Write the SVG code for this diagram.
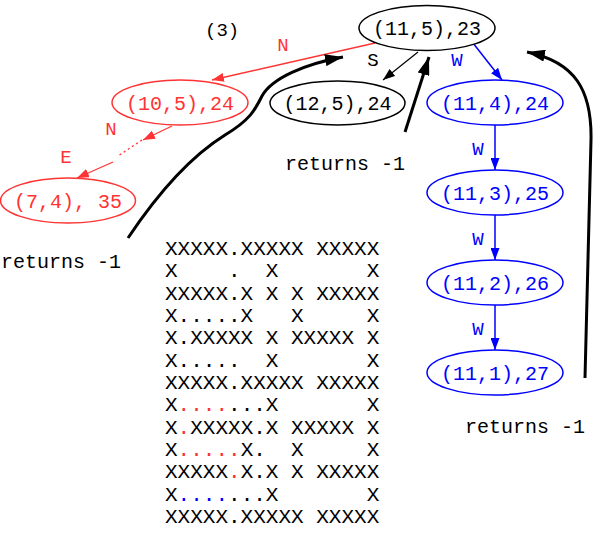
<svg xmlns="http://www.w3.org/2000/svg" width="601" height="533" viewBox="0 0 601 533">
<style>
text{font-family:"Liberation Mono","Courier New",monospace;}
.nl{font-size:20px;text-anchor:middle;}
.el{font-size:19px;text-anchor:middle;}
.ret{font-size:20px;fill:#000;}
.maze{font-size:21px;fill:#000;white-space:pre;}
.red{fill:#ff3333;}
.blue{fill:#0000ff;}
.blk{fill:#000;}
.nb{fill:#fff;stroke:#000;stroke-width:1.5;}
.nr{fill:#fff;stroke:#ff3333;stroke-width:1.5;}
.nu{fill:#fff;stroke:#0000ff;stroke-width:1.5;}
.er{stroke:#ff3333;stroke-width:1.3;fill:none;}
.eu{stroke:#0000ff;stroke-width:1.5;fill:none;}
.ek{stroke:#000;stroke-width:1.3;fill:none;}
.thick{stroke:#000;stroke-width:3;fill:none;}
</style>
<defs>
<marker id="ar" markerUnits="userSpaceOnUse" markerWidth="13" markerHeight="9" refX="12" refY="4.5" orient="auto"><path d="M0,0 L12,4.5 L0,9 z" fill="#ff3333"/></marker>
<marker id="au" markerUnits="userSpaceOnUse" markerWidth="13" markerHeight="9" refX="12" refY="4.5" orient="auto"><path d="M0,0 L12,4.5 L0,9 z" fill="#0000ff"/></marker>
<marker id="ak" markerUnits="userSpaceOnUse" markerWidth="13" markerHeight="9" refX="12" refY="4.5" orient="auto"><path d="M0,0 L12,4.5 L0,9 z" fill="#000"/></marker>
<marker id="at" markerUnits="userSpaceOnUse" markerWidth="19" markerHeight="12" refX="18" refY="6" orient="auto"><path d="M0,0 L18,6 L0,12 z" fill="#000"/></marker>
</defs>

<g id="connectors">
<path class="er" d="M375,43 L212,80" marker-end="url(#ar)"/>
<path class="ek" d="M418,52 L383,80" marker-end="url(#ak)"/>
<path class="eu" d="M473,43 L502,80" marker-end="url(#au)"/>
<path class="eu" d="M495,125 L495,170" marker-end="url(#au)"/>
<path class="eu" d="M495,215 L495,260" marker-end="url(#au)"/>
<path class="eu" d="M495,305 L495,350" marker-end="url(#au)"/>
<path class="er" d="M172,126 L143,140" marker-end="url(#ar)"/>
<path class="er" d="M142,140 L118,156" stroke-dasharray="2,3"/>
<path class="er" d="M113,162 L77,178" marker-end="url(#ar)"/>
<path class="thick" d="M128,238 C150,205 185,160 225,135 C250,120 255,110 262,96 C272,78 305,64 343,57" marker-end="url(#at)"/>
<path class="thick" d="M405,132 L429,57" marker-end="url(#at)"/>
<path class="thick" d="M585,378 L591,140 C592,90 575,62 527,52" marker-end="url(#at)"/>
<text class="el red" x="283" y="51">N</text>
<text class="el blk" x="373" y="66">S</text>
<text class="el blue" x="457" y="66">W</text>
<text class="el blue" x="478" y="155">W</text>
<text class="el blue" x="478" y="245">W</text>
<text class="el blue" x="478" y="335">W</text>
<text class="el red" x="111" y="135">N</text>
<text class="el red" x="66" y="163">E</text>
</g>

<g id="n11_5">
<ellipse class="nb" cx="427" cy="28" rx="68" ry="22.5"/>
<text class="nl blk" x="427" y="35">(11,5),23</text>
</g>
<g id="n12_5">
<ellipse class="nb" cx="337.5" cy="103" rx="67.5" ry="22"/>
<text class="nl blk" x="337.5" y="110">(12,5),24</text>
</g>
<g id="n10_5">
<ellipse class="nr" cx="180" cy="102.5" rx="68" ry="22.5"/>
<text class="nl red" x="180" y="109.5">(10,5),24</text>
</g>
<g id="n7_4">
<ellipse class="nr" cx="68" cy="200.5" rx="67.5" ry="22.5"/>
<text class="nl red" x="68" y="207.5">(7,4), 35</text>
</g>
<g id="n11_4">
<ellipse class="nu" cx="495" cy="102.5" rx="68" ry="22.5"/>
<text class="nl blue" x="495" y="109.5">(11,4),24</text>
</g>
<g id="n11_3">
<ellipse class="nu" cx="495" cy="192.5" rx="68" ry="22.5"/>
<text class="nl blue" x="495" y="199.5">(11,3),25</text>
</g>
<g id="n11_2">
<ellipse class="nu" cx="495" cy="282.5" rx="68" ry="22.5"/>
<text class="nl blue" x="495" y="289.5">(11,2),26</text>
</g>
<g id="n11_1">
<ellipse class="nu" cx="495" cy="372.5" rx="68" ry="22.5"/>
<text class="nl blue" x="495" y="379.5">(11,1),27</text>
</g>

<g id="labels">
<text x="205" y="36" style="font-size:19px">(3)</text>
<text class="ret" x="1" y="268">returns -1</text>
<text class="ret" x="285" y="170">returns -1</text>
<text class="ret" x="465" y="433">returns -1</text>
</g>

<g id="maze" xml:space="preserve">
<text class="maze" x="165" y="255">XXXXX.XXXXX XXXXX</text>
<text class="maze" x="165" y="277.3">X    .  X       X</text>
<text class="maze" x="165" y="299.7">XXXXX.X X X XXXXX</text>
<text class="maze" x="165" y="322">X.....X   X     X</text>
<text class="maze" x="165" y="344.3">X.XXXXX X XXXXX X</text>
<text class="maze" x="165" y="366.7">X.....  X       X</text>
<text class="maze" x="165" y="389">XXXXX.XXXXX XXXXX</text>
<text class="maze" x="165" y="411.3">X<tspan class="red">....</tspan>...X       X</text>
<text class="maze" x="165" y="433.7">X<tspan class="red">.</tspan>XXXXX.X XXXXX X</text>
<text class="maze" x="165" y="456">X<tspan class="red">.....</tspan>X.  X     X</text>
<text class="maze" x="165" y="478.3">XXXXX<tspan class="red">.</tspan>X.X X XXXXX</text>
<text class="maze" x="165" y="500.7">X<tspan class="blue">....</tspan>...X       X</text>
<text class="maze" x="165" y="523">XXXXX.XXXXX XXXXX</text>
</g>
</svg>
